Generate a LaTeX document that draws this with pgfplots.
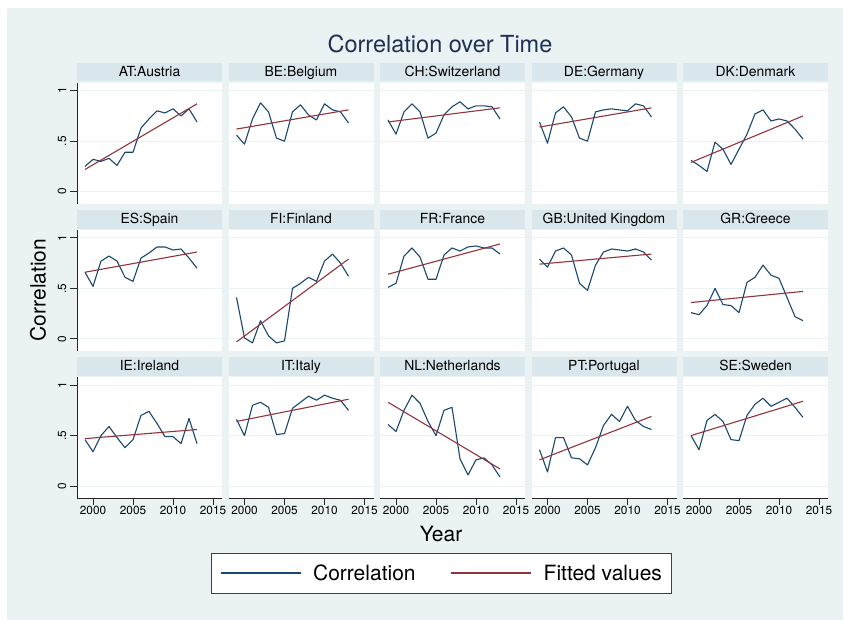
\documentclass[border=0pt]{standalone}
\usepackage{pgfplots}
\pgfplotsset{compat=1.18}
\usepackage{fontspec}
\setmainfont{TeX Gyre Heros}
\definecolor{bg}{RGB}{234,242,243}
\definecolor{strip}{RGB}{217,230,235}
\definecolor{navy}{RGB}{26,71,111}
\definecolor{maroon}{RGB}{144,53,59}
\definecolor{titlecol}{RGB}{30,48,84}
\pgfplotsset{
  legend image code/.code={\draw[#1] (0pt,0pt) -- (80pt,0pt);},
  every axis title/.style={at={(0.5,1)}, anchor=south, yshift=1.5pt, fill=strip,
    minimum width=145pt, minimum height=18.5pt, inner sep=0pt, text height=10pt,
    text depth=1pt, font=\fontsize{13.9}{15}\selectfont, text=black},
  panel/.style={
    scale only axis, width=145pt, height=121pt, anchor=north west,
    xmin=1998, xmax=2016.125, ymin=-0.122, ymax=1.076,
    axis background/.style={fill=white},
    xtick={2000,2005,2010,2015}, ytick={0,0.5,1},
    xticklabels={2000,2005,2010,2015}, yticklabels={0,.5,1},
    ymajorgrids, major grid style={draw=bg, line width=1pt},
    tick align=outside, major tick length=7pt,
    axis x line*=bottom, axis y line*=left,
    axis line style={black!85, line width=0.8pt, -},
    every tick/.style={black!85, line width=0.8pt},
    tick label style={font=\fontsize{11.8}{13}\selectfont},
    yticklabel style={rotate=90, anchor=south, inner sep=3.5pt},
    xticklabel style={anchor=north, inner sep=1pt},
  },
  nox/.style={x axis line style={draw=none}, xtick style={draw=none}, xticklabels={}},
  noy/.style={y axis line style={draw=none}, ytick style={draw=none}, yticklabels={}},
  dataline/.style={navy, line width=1.1pt, line join=round, mark=none},
  fitline/.style={maroon, line width=1.1pt, mark=none},
}
\newcommand{\panel}[6]{%
\begin{axis}[panel, at={(#1pt,-#2pt)}, title={#3}, #4]
\addplot[dataline] coordinates {#5};
\addplot[fitline] coordinates {#6};
\end{axis}}
\begin{document}
\begin{tikzpicture}
\path[use as bounding box] (0,0) rectangle (843pt,-619pt);
\fill[white] (-5pt,5pt) rectangle (860pt,-640pt);
\fill[bg] (7pt,-8pt) rectangle (860pt,-640pt);
% Row 1
\panel{77}{83}{AT:Austria}{nox}{(1999,0.25)(2000,0.32)(2001,0.30)(2002,0.33)(2003,0.26)(2004,0.39)(2005,0.39)(2006,0.63)(2007,0.72)(2008,0.80)(2009,0.78)(2010,0.82)(2011,0.75)(2012,0.82)(2013,0.69)}{(1999,0.22)(2013,0.87)}
\panel{228.5}{83}{BE:Belgium}{nox,noy}{(1999,0.56)(2000,0.47)(2001,0.72)(2002,0.88)(2003,0.79)(2004,0.53)(2005,0.50)(2006,0.79)(2007,0.86)(2008,0.76)(2009,0.71)(2010,0.87)(2011,0.81)(2012,0.79)(2013,0.68)}{(1999,0.62)(2013,0.81)}
\panel{380}{83}{CH:Switzerland}{nox,noy}{(1999,0.71)(2000,0.57)(2001,0.79)(2002,0.87)(2003,0.79)(2004,0.53)(2005,0.58)(2006,0.76)(2007,0.84)(2008,0.89)(2009,0.82)(2010,0.85)(2011,0.85)(2012,0.84)(2013,0.72)}{(1999,0.69)(2013,0.83)}
\panel{531.5}{83}{DE:Germany}{nox,noy}{(1999,0.69)(2000,0.48)(2001,0.78)(2002,0.84)(2003,0.74)(2004,0.53)(2005,0.50)(2006,0.79)(2007,0.81)(2008,0.82)(2009,0.81)(2010,0.80)(2011,0.87)(2012,0.85)(2013,0.74)}{(1999,0.64)(2013,0.83)}
\panel{683}{83}{DK:Denmark}{nox,noy}{(1999,0.31)(2000,0.26)(2001,0.20)(2002,0.49)(2003,0.42)(2004,0.27)(2005,0.42)(2006,0.57)(2007,0.77)(2008,0.81)(2009,0.70)(2010,0.72)(2011,0.70)(2012,0.62)(2013,0.52)}{(1999,0.29)(2013,0.75)}
% Row 2
\panel{77}{230.2}{ES:Spain}{nox}{(1999,0.66)(2000,0.52)(2001,0.77)(2002,0.82)(2003,0.77)(2004,0.61)(2005,0.57)(2006,0.80)(2007,0.85)(2008,0.91)(2009,0.91)(2010,0.88)(2011,0.89)(2012,0.80)(2013,0.70)}{(1999,0.66)(2013,0.86)}
\panel{228.5}{230.2}{FI:Finland}{nox,noy}{(1999,0.41)(2000,0.01)(2001,-0.04)(2002,0.18)(2003,0.03)(2004,-0.04)(2005,-0.02)(2006,0.50)(2007,0.55)(2008,0.61)(2009,0.57)(2010,0.77)(2011,0.84)(2012,0.75)(2013,0.62)}{(1999,-0.03)(2013,0.79)}
\panel{380}{230.2}{FR:France}{nox,noy}{(1999,0.51)(2000,0.55)(2001,0.82)(2002,0.90)(2003,0.81)(2004,0.59)(2005,0.59)(2006,0.83)(2007,0.90)(2008,0.87)(2009,0.91)(2010,0.92)(2011,0.90)(2012,0.90)(2013,0.84)}{(1999,0.64)(2013,0.94)}
\panel{531.5}{230.2}{GB:United Kingdom}{nox,noy}{(1999,0.79)(2000,0.71)(2001,0.87)(2002,0.90)(2003,0.83)(2004,0.55)(2005,0.48)(2006,0.73)(2007,0.86)(2008,0.89)(2009,0.88)(2010,0.87)(2011,0.89)(2012,0.86)(2013,0.78)}{(1999,0.74)(2013,0.84)}
\panel{683}{230.2}{GR:Greece}{nox,noy}{(1999,0.26)(2000,0.24)(2001,0.33)(2002,0.50)(2003,0.34)(2004,0.33)(2005,0.26)(2006,0.56)(2007,0.61)(2008,0.73)(2009,0.63)(2010,0.60)(2011,0.41)(2012,0.22)(2013,0.18)}{(1999,0.36)(2013,0.47)}
% Row 3
\panel{77}{377.4}{IE:Ireland}{}{(1999,0.46)(2000,0.34)(2001,0.50)(2002,0.59)(2003,0.48)(2004,0.38)(2005,0.46)(2006,0.70)(2007,0.74)(2008,0.62)(2009,0.49)(2010,0.49)(2011,0.42)(2012,0.67)(2013,0.42)}{(1999,0.47)(2013,0.56)}
\panel{228.5}{377.4}{IT:Italy}{noy}{(1999,0.66)(2000,0.50)(2001,0.80)(2002,0.83)(2003,0.78)(2004,0.51)(2005,0.52)(2006,0.77)(2007,0.83)(2008,0.89)(2009,0.85)(2010,0.90)(2011,0.87)(2012,0.85)(2013,0.75)}{(1999,0.64)(2013,0.86)}
\panel{380}{377.4}{NL:Netherlands}{noy, legend entries={Correlation,Fitted values\hspace{7pt}}, legend columns=2,
  legend style={at={(axis description cs:0.4207,-0.6165)}, anchor=center, draw=black!75, line width=0.8pt, fill=white,
  inner xsep=9pt, inner ysep=12.5pt, font=\fontsize{21}{25}\selectfont,
  /tikz/every odd column/.append style={column sep=12pt},
  /tikz/every even column/.append style={column sep=35pt},
  nodes={inner sep=0pt, text height=15pt, text depth=0pt}, cells={anchor=west}}}{(1999,0.61)(2000,0.54)(2001,0.75)(2002,0.90)(2003,0.82)(2004,0.64)(2005,0.50)(2006,0.75)(2007,0.78)(2008,0.27)(2009,0.11)(2010,0.26)(2011,0.28)(2012,0.21)(2013,0.09)}{(1999,0.83)(2013,0.17)}
\panel{531.5}{377.4}{PT:Portugal}{noy}{(1999,0.36)(2000,0.14)(2001,0.48)(2002,0.48)(2003,0.28)(2004,0.27)(2005,0.21)(2006,0.38)(2007,0.60)(2008,0.71)(2009,0.64)(2010,0.79)(2011,0.65)(2012,0.59)(2013,0.56)}{(1999,0.26)(2013,0.69)}
\panel{683}{377.4}{SE:Sweden}{noy}{(1999,0.50)(2000,0.36)(2001,0.65)(2002,0.71)(2003,0.64)(2004,0.46)(2005,0.45)(2006,0.70)(2007,0.81)(2008,0.87)(2009,0.79)(2010,0.83)(2011,0.87)(2012,0.78)(2013,0.68)}{(1999,0.50)(2013,0.84)}
% Titles and labels
\node[anchor=base, font=\fontsize{23.5}{28}\selectfont, text=titlecol] at (440pt,-52pt) {Correlation over Time};
\node[rotate=90, font=\fontsize{21}{25}\selectfont] at (38pt,-290pt) {Correlation};
\node[anchor=base, font=\fontsize{21}{25}\selectfont] at (441pt,-541.5pt) {Year};
\end{tikzpicture}
\end{document}
